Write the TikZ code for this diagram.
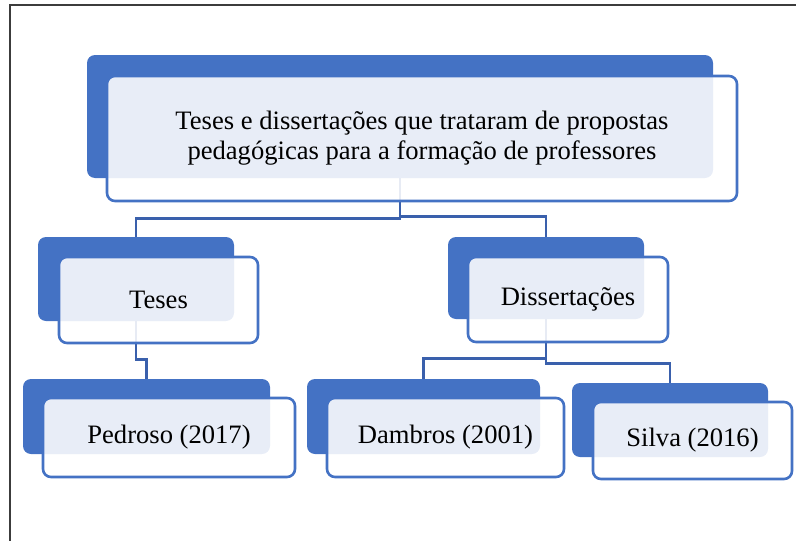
\documentclass[tikz,border=0pt]{standalone}
\usepackage{fontspec}
\setmainfont{Liberation Serif}
\definecolor{boxblue}{RGB}{68,114,196}
\definecolor{lineblue}{RGB}{58,96,172}
\definecolor{framegray}{RGB}{60,60,60}
\begin{document}
\begin{tikzpicture}[x=1pt,y=-1pt,
    backbox/.style={fill=boxblue,rounded corners=8pt,inner sep=0pt},
    frontbox/.style={draw=boxblue,line width=2.6pt,rounded corners=8pt,fill=white,fill opacity=0.88,text opacity=1,
        inner sep=0pt,align=center,font=\fontsize{26.6}{30}\selectfont},
    link/.style={draw=lineblue,line width=2.6pt}]
    \useasboundingbox (0,0) rectangle (796,541);
    \draw[framegray,line width=1.3pt] (10,541) -- (10,5) -- (796,5);

    \node[backbox,minimum width=626,minimum height=123] (rootbk) at (400,116.5) {};
    \node[backbox,minimum width=196,minimum height=84] (tesesbk) at (136,279) {};
    \node[backbox,minimum width=196,minimum height=82] (dissbk) at (546,278) {};
    \node[backbox,minimum width=247,minimum height=75] (pedrosobk) at (146.5,416.5) {};
    \node[backbox,minimum width=233,minimum height=75] (dambrosbk) at (423.5,416.5) {};
    \node[backbox,minimum width=196,minimum height=74] (silvabk) at (670,420) {};

    \draw[link] (rootbk.south) -- ++(0,40) -| (tesesbk.north);
    \draw[link] (rootbk.south) -- ++(0,38) -| (dissbk.north);
    \draw[link] (tesesbk.south) -- ++(0,38) -| (pedrosobk.north);
    \draw[link] (dissbk.south) -- ++(0,39) -| (dambrosbk.north);
    \draw[link] (dissbk.south) -- ++(0,44) -| (silvabk.north);

    \node[frontbox,minimum width=630,minimum height=125] (root) at (422,138.5)
        {Teses e dissertações que trataram de propostas\\pedagógicas para a formação de professores};
    \node[frontbox,minimum width=199,minimum height=86] (teses) at (158.5,300) {Teses};
    \node[frontbox,minimum width=200,minimum height=85] (diss) at (568,299.5) {Dissertações};
    \node[frontbox,minimum width=252,minimum height=79] (pedroso) at (169,437.5) {Pedroso (2017)};
    \node[frontbox,minimum width=237,minimum height=79] (dambros) at (445.5,437.5) {Dambros (2001)};
    \node[frontbox,minimum width=199,minimum height=77] (silva) at (692.5,440.5) {Silva (2016)};
\end{tikzpicture}
\end{document}
